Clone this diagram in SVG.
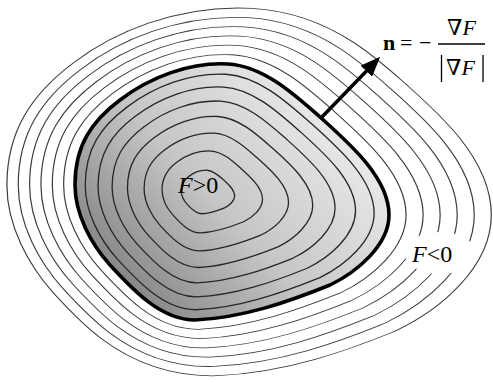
<svg xmlns="http://www.w3.org/2000/svg" width="493" height="383" viewBox="0 0 493 383">
<defs>
<linearGradient id="fillGrad" gradientUnits="userSpaceOnUse" x1="110" y1="305" x2="330" y2="105">
<stop offset="0" stop-color="#7a7a7a"/>
<stop offset="0.5" stop-color="#c6c6c6"/>
<stop offset="1" stop-color="#ececec"/>
</linearGradient>
<path id="P" d="M75,185 C75,145 92,121 120,100 C150,77 190,62 228,64 C263,66 294,94 320,117 C350,144 389,178 389,215 C389,245 357,272 330,285 C288,302 242,318 195,320 C161,320 133,290 110,265 C91,244 75,214 75,185 Z"/>
<path id="B" fill="none" stroke-linejoin="round" d="M75,181.3 C75,120.3 92,83.6 120,51.5 C150,16.4 190,-6.5 228,-3.4 C263,-0.4 294,42.4 320,77.5 C350,118.7 389,170.6 389,227.1 C389,272.9 357,314.1 330,334 C288,359.9 242,384.4 195,387.4 C161,387.4 133,341.6 110,303.4 C91,271.4 75,225.6 75,181.3 Z"/>
<marker id="ah" viewBox="0 0 20 16" markerWidth="20" markerHeight="16" refX="1" refY="8" orient="auto" markerUnits="userSpaceOnUse">
<path d="M0,0 L20,8 L0,16 Z" fill="#000"/>
</marker>
</defs>
<style>
.rb{stroke:#3c3c3c}
.rw{stroke:#ffffff}
.ic{fill:none;stroke:#262626}
.lbl{font-family:"Liberation Serif","DejaVu Serif",serif;fill:#000}
</style>
<rect width="493" height="383" fill="#fff"/>
<g id="outer-level-sets">
<g transform="translate(17.1,192) scale(1,0.655) translate(0,-192)"><use href="#B" class="rb" stroke-width="171.6"/><use href="#B" class="rw" stroke-width="169.2"/></g>
<g transform="translate(14.25,192) scale(1,0.655) translate(0,-192)"><use href="#B" class="rb" stroke-width="143.2"/><use href="#B" class="rw" stroke-width="140.8"/></g>
<g transform="translate(11.4,192) scale(1,0.655) translate(0,-192)"><use href="#B" class="rb" stroke-width="114.8"/><use href="#B" class="rw" stroke-width="112.4"/></g>
<g transform="translate(8.55,192) scale(1,0.655) translate(0,-192)"><use href="#B" class="rb" stroke-width="86.4"/><use href="#B" class="rw" stroke-width="84"/></g>
<g transform="translate(5.7,192) scale(1,0.655) translate(0,-192)"><use href="#B" class="rb" stroke-width="58"/><use href="#B" class="rw" stroke-width="55.6"/></g>
<g transform="translate(2.85,192) scale(1,0.655) translate(0,-192)"><use href="#B" class="rb" stroke-width="29.6"/><use href="#B" class="rw" stroke-width="27.2"/></g>
<ellipse cx="440" cy="253" rx="36" ry="21" fill="#fff"/>
</g>
<g id="region-inside">
<use href="#P" fill="url(#fillGrad)" stroke="#000" stroke-width="3.6" stroke-linejoin="round"/>
</g>
<g id="inner-level-sets">
<use href="#P" class="ic" transform="translate(16.24,15.36) scale(0.92)" stroke-width="1.41"/>
<use href="#P" class="ic" transform="translate(36.54,34.56) scale(0.82)" stroke-width="1.59"/>
<use href="#P" class="ic" transform="translate(58.87,55.68) scale(0.71)" stroke-width="1.83"/>
<use href="#P" class="ic" transform="translate(83.23,78.72) scale(0.59)" stroke-width="2.2"/>
<use href="#P" class="ic" transform="translate(109.62,103.68) scale(0.46)" stroke-width="2.83"/>
<use href="#P" class="ic" transform="translate(138.04,130.56) scale(0.32)" stroke-width="4.06"/>
<use href="#P" class="ic" transform="translate(168.49,159.36) scale(0.17)" stroke-width="7.65"/>
</g>
<g id="connectors">
<line id="normal-arrow" x1="321" y1="118" x2="367" y2="70.5" stroke="#000" stroke-width="3.5" marker-end="url(#ah)"/>
</g>
<g id="label-inside">
<text class="lbl" x="178" y="193" font-size="24"><tspan font-style="italic">F</tspan>&gt;0</text>
</g>
<g id="label-outside">
<text class="lbl" x="412" y="262" font-size="24"><tspan font-style="italic">F</tspan>&lt;0</text>
</g>
<g id="label-normal">
<text class="lbl" x="383" y="50" font-size="22" font-weight="bold">n</text>
<text class="lbl" x="400" y="50" font-size="22">=</text>
<text class="lbl" x="419" y="50" font-size="22">−</text>
<line x1="438" y1="44" x2="485" y2="44" stroke="#000" stroke-width="1.3"/>
<text class="lbl" x="447" y="35" font-size="22">∇<tspan font-style="italic">F</tspan></text>
<line x1="441.5" y1="55" x2="441.5" y2="82" stroke="#000" stroke-width="1.3"/>
<line x1="483" y1="55" x2="483" y2="82" stroke="#000" stroke-width="1.3"/>
<text class="lbl" x="446" y="75" font-size="22">∇<tspan font-style="italic">F</tspan></text>
</g>
</svg>
